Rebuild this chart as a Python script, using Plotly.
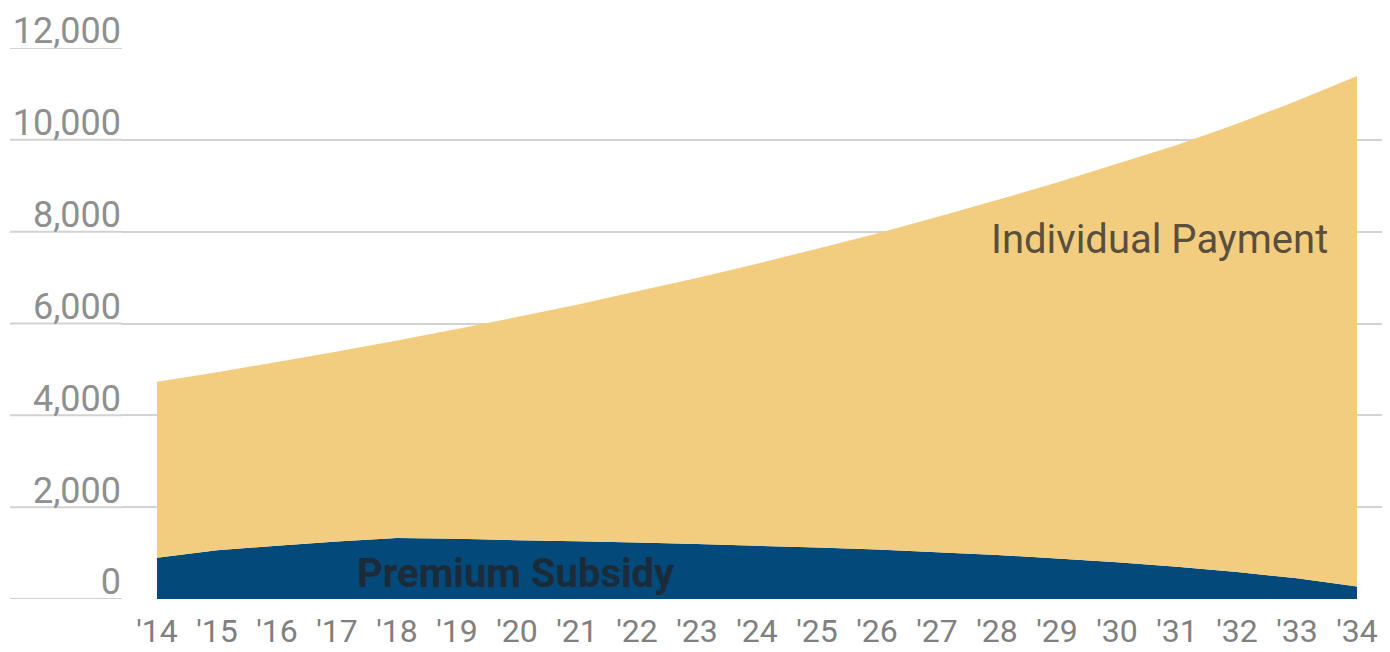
import plotly.graph_objects as go

years = list(range(14, 35))
year_labels = ["'%d" % y for y in years]
premium_subsidy = [900, 1060, 1160, 1250, 1330, 1310, 1280, 1260, 1230, 1200, 1160,
                   1120, 1080, 1020, 960, 880, 800, 700, 590, 450, 270]
individual_payment = [3830, 3880, 4000, 4140, 4300, 4570, 4860, 5150, 5470, 5790, 6140,
                      6510, 6880, 7300, 7730, 8190, 8680, 9190, 9760, 10400, 11120]
y_ticks = [0, 2000, 4000, 6000, 8000, 10000, 12000]
y_tick_labels = ["0", "2,000", "4,000", "6,000", "8,000", "10,000", "12,000"]

FONT = "Roboto, DejaVu Sans, sans-serif"
# page body has an 8px default margin; figure sized to fit the 1390x652 window
W, H = 1382, 644
ML, MR, MT, MB = 114, 5, 40, 53

fig = go.Figure()
fig.add_trace(go.Scatter(x=years, y=premium_subsidy, stackgroup="a", mode="none",
                         fillcolor="#03497A", name="Premium Subsidy", hoverinfo="skip"))
fig.add_trace(go.Scatter(x=years, y=individual_payment, stackgroup="a", mode="none",
                         fillcolor="#F2CD80", name="Individual Payment", hoverinfo="skip"))

plot_w = W - ML - MR
ext = (ML - 2) / plot_w
for v in y_ticks:
    fig.add_shape(type="line", xref="paper", yref="y", x0=-ext, x1=0, y0=v, y1=v,
                  line=dict(color="#d2d2d2", width=2), layer="below")

fig.add_annotation(x=30.7, y=7820, text="Individual Payment", showarrow=False,
                   font=dict(family=FONT, size=40, color="#5a4f3c"))
fig.add_annotation(x=19.98, y=560, text="<b>Premium Subsidy</b>", showarrow=False,
                   font=dict(family=FONT, size=40, color="#1c2b3a"))

x_left = 14 - 35 / 60
x_right = 34 + 28 / 60
fig.update_layout(
    width=W, height=H, margin=dict(l=ML, r=MR, t=MT, b=MB),
    paper_bgcolor="white", plot_bgcolor="white", showlegend=False,
    xaxis=dict(range=[x_left, x_right], tickvals=years, ticktext=year_labels,
               showgrid=False, zeroline=False, showline=False, ticks="", automargin=False,
               tickfont=dict(family=FONT, size=32, color="#808080"), ticklabelstandoff=10),
    yaxis=dict(range=[0, 12000], tickvals=y_ticks, ticktext=y_tick_labels,
               showgrid=True, gridcolor="#d2d2d2", gridwidth=2, zeroline=False,
               showline=False, ticks="", ticklabelposition="outside top", automargin=False,
               ticklabelstandoff=0, ticklabelshift=8,
               tickfont=dict(family=FONT, size=36, color="#8f8f8f")),
)
fig.write_html("out.html", config={"displayModeBar": False})
